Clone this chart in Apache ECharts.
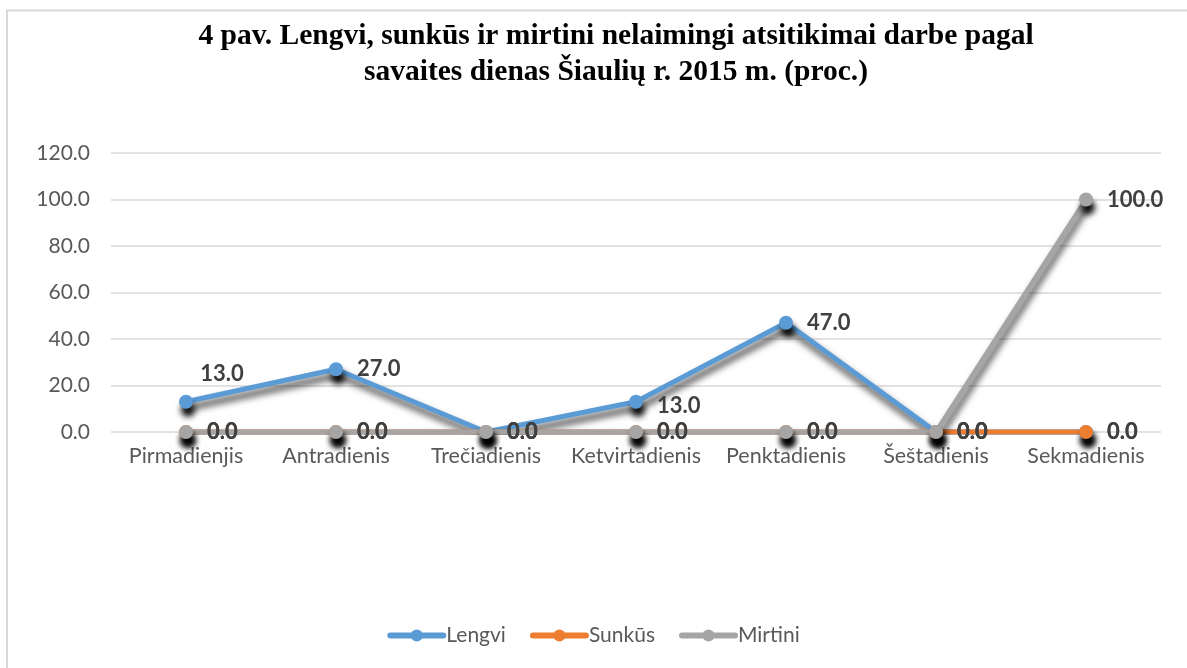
<!DOCTYPE html>
<html><head><meta charset="utf-8">
<script src="https://cdn.jsdelivr.net/npm/echarts@6/dist/echarts.min.js"></script>
<style>html,body{margin:0;padding:0;background:#fff}#c{width:1187px;height:668px}</style>
</head><body><div id="c"></div>
<script>
var categories = ['Pirmadienjis','Antradienis','Trečiadienis','Ketvirtadienis','Penktadienis','Šeštadienis','Sekmadienis'];
var lengvi = [13.0, 27.0, 0.0, 13.0, 47.0, 0.0, 0.0];
var sunkus = [0.0, 0.0, 0.0, 0.0, 0.0, 0.0, 0.0];
var mirtini = [0.0, 0.0, 0.0, 0.0, 0.0, 0.0, 100.0];
var yTicks = {min: 0, max: 120, interval: 20};

var chart = echarts.init(document.getElementById('c'));
var labelFont = {show: true, position: 'right', distance: 14, fontFamily: 'Lato', fontWeight: 'bold', fontSize: 22, color: '#404040', formatter: function(p){return p.value.toFixed(1);}};
function mkSeries(name, data, color, extra) {
  var s = {
    name: name, type: 'line', data: data, symbol: 'circle', symbolSize: 14,
    lineStyle: {width: 5, color: color, shadowColor: 'rgba(0,0,0,0.8)', shadowBlur: 7, shadowOffsetX: 2, shadowOffsetY: 6, cap: 'round', join: 'round'},
    itemStyle: {color: color, shadowColor: 'rgba(0,0,0,0.95)', shadowBlur: 6, shadowOffsetX: 2, shadowOffsetY: 8},
    label: Object.assign({}, labelFont),
    emphasis: {disabled: true}, animation: false
  };
  return Object.assign(s, extra || {});
}
var lengviSeries = mkSeries('Lengvi', lengvi.map(function(v, i){
  if (i === 0) return {value: v, label: {position: 'top', offset: [36, 4]}};
  if (i === 3) return {value: v, label: {offset: [0, 4]}};
  return v;
}), '#5B9BD5');
chart.setOption({
  animation: false,
  title: {
    text: '4 pav. Lengvi, sunkūs ir mirtini nelaimingi atsitikimai darbe pagal\nsavaites dienas Šiaulių r. 2015 m. (proc.)',
    left: 611, textAlign: 'center', top: 13,
    textStyle: {fontFamily: 'Liberation Serif', fontWeight: 'bold', fontSize: 29.5, lineHeight: 36, color: '#000'}
  },
  graphic: [{type: 'rect', shape: {x: 7, y: 10.5, width: 1300, height: 800}, style: {fill: 'none', stroke: '#d9d9d9', lineWidth: 2}, silent: true}],
  legend: {
    bottom: 17, left: 'center', itemWidth: 53, itemHeight: 15, itemGap: 24,
    textStyle: {fontFamily: 'Lato', fontSize: 21, color: '#595959', padding: [0, 0, 0, -2]},
    lineStyle: {width: 6, shadowBlur: 0, shadowOffsetX: 0, shadowOffsetY: 0, shadowColor: 'transparent', cap: 'round'},
    itemStyle: {shadowBlur: 0, shadowOffsetX: 0, shadowOffsetY: 0, shadowColor: 'transparent'},
    data: ['Lengvi', 'Sunkūs', 'Mirtini']
  },
  grid: {left: 111, right: 26, top: 153, bottom: 236, containLabel: false},
  xAxis: {
    type: 'category', data: categories, boundaryGap: true,
    axisLine: {show: false}, axisTick: {show: false},
    axisLabel: {fontFamily: 'Lato', fontSize: 21.5, color: '#595959', margin: 13, interval: 0}
  },
  yAxis: {
    type: 'value', min: yTicks.min, max: yTicks.max, interval: yTicks.interval,
    axisLine: {show: false}, axisTick: {show: false},
    axisLabel: {fontFamily: 'Lato', fontSize: 21, color: '#595959', margin: 21, formatter: function(v){return v.toFixed(1);}},
    splitLine: {lineStyle: {color: '#d9d9d9', width: 1.5}}
  },
  series: [
    lengviSeries,
    mkSeries('Sunkūs', sunkus, '#ED7D31'),
    mkSeries('Mirtini', mirtini, '#A5A5A5')
  ]
});
</script></body></html>
